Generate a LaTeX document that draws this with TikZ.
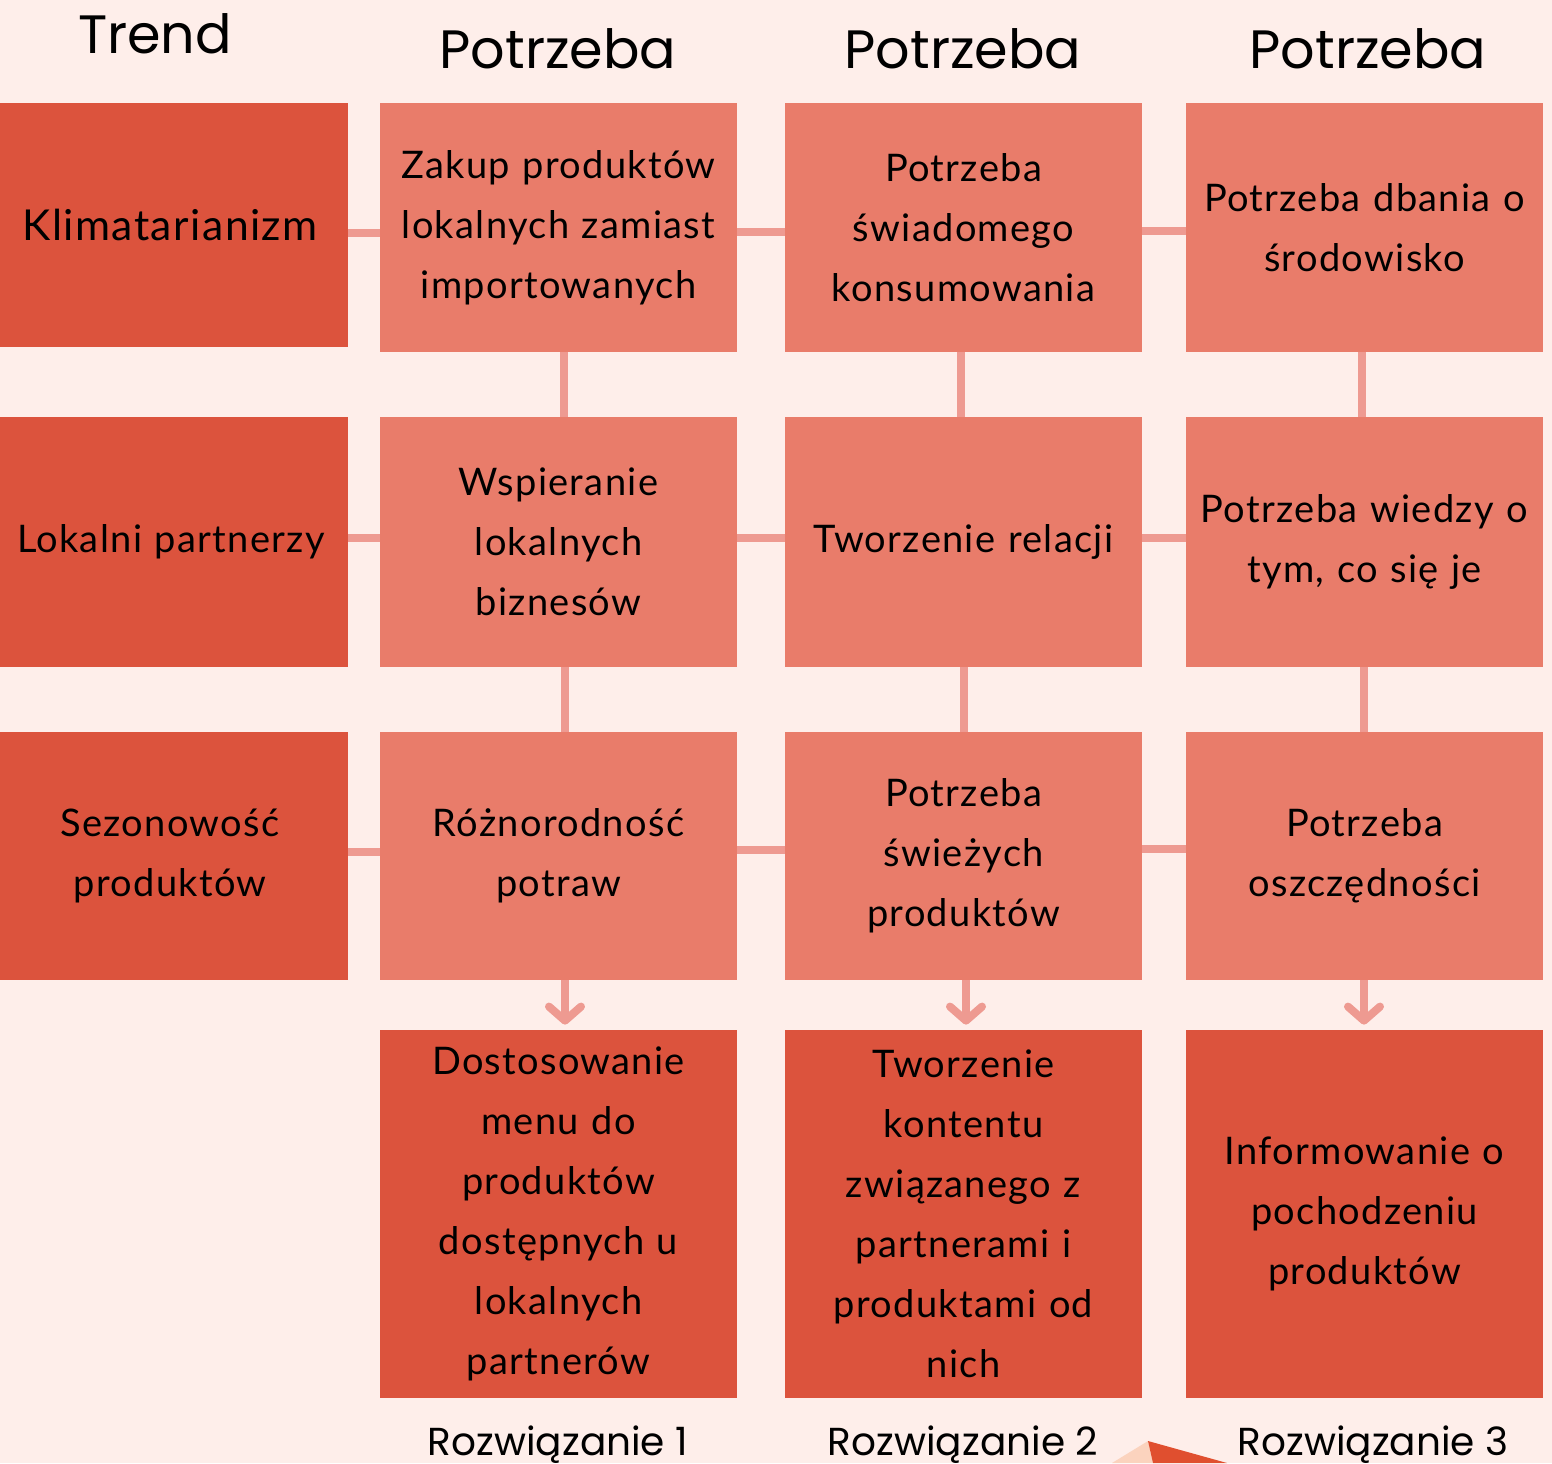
\documentclass[tikz,border=0pt]{standalone}
\usepackage{fontspec}
\setmainfont{Lato}[LetterSpace=3.5]
\newfontfamily\headfont{Poppins}
\usetikzlibrary{arrows.meta}
\definecolor{bg}{HTML}{FEEEEA}
\definecolor{darkred}{HTML}{DC533D}
\definecolor{lightred}{HTML}{E97C6A}
\definecolor{linkpink}{HTML}{EE9A91}
\definecolor{peach}{HTML}{FBD3BE}
\definecolor{flame}{HTML}{E04F2F}
\tikzset{
  box/.style={inner sep=0pt, align=center, text=black,
    font=\fontsize{19}{30}\selectfont},
  trendbox/.style={box, fill=darkred, minimum width=174pt, text width=172pt},
  needbox/.style={box, fill=lightred, minimum width=178.5pt, text width=176pt},
  solbox/.style={box, fill=darkred, minimum width=178.5pt, text width=150pt},
  heading/.style={anchor=base, inner sep=0pt, font=\headfont\fontsize{27}{32}\selectfont},
  caption/.style={anchor=base, inner sep=0pt, font=\headfont\fontsize{19.5}{24}\selectfont},
  conn/.style={draw=linkpink, line width=4pt},
  arr/.style={conn, -{Straight Barb[round, length=7pt, width=16pt]}, shorten >=2.5pt},
}
\begin{document}
\begin{tikzpicture}[x=0.5pt, y=-0.5pt]
  \fill[bg] (0,0) rectangle (1552,1463);
  \useasboundingbox (0,0) rectangle (1552,1463);

  % column headings
  \node[heading] (hT) at (155,53) {Trend};
  \node[heading] (h1) at (558,68) {Potrzeba};
  \node[heading] (h2) at (963,68) {Potrzeba};
  \node[heading] (h3) at (1368,68) {Potrzeba};

  % trends
  \node[trendbox, minimum height=122pt] (t1) at (174,225)
    {\fontsize{21.3}{30}\selectfont\hspace*{-4pt}Klimatarianizm\\[16pt]};
  \node[trendbox, minimum height=125pt] (t2) at (174,542) {\hspace*{-3pt}Lokalni partnerzy};
  \node[trendbox, minimum height=124pt] (t3) at (174,856) {\hspace*{-4pt}Sezonowość\\\hspace*{-4pt}produktów};

  % needs, row 1
  \node[needbox, minimum height=124.5pt] (n11) at (558.5,227.5)
    {Zakup produktów\\lokalnych zamiast\\importowanych};
  \node[needbox, minimum height=124.5pt] (n12) at (963.5,227.5)
    {Potrzeba\\świadomego\\konsumowania};
  \node[needbox, minimum height=124.5pt] (n13) at (1364.5,227.5)
    {Potrzeba dbania o\\środowisko\\[4pt]};

  % needs, row 2
  \node[needbox, minimum height=125pt] (n21) at (558.5,542)
    {Wspieranie\\lokalnych\\biznesów};
  \node[needbox, minimum height=125pt] (n22) at (963.5,542)
    {Tworzenie relacji};
  \node[needbox, minimum height=125pt] (n23) at (1364.5,542)
    {Potrzeba wiedzy o\\tym, co się je};

  % needs, row 3
  \node[needbox, minimum height=124pt] (n31) at (558.5,856)
    {Różnorodność\\potraw};
  \node[needbox, minimum height=124pt] (n32) at (963.5,856)
    {Potrzeba\\świeżych\\produktów};
  \node[needbox, minimum height=124pt] (n33) at (1364.5,856)
    {Potrzeba\\oszczędności};

  % solutions
  \node[solbox, minimum height=184pt] (s1) at (558.5,1214)
    {Dostosowanie\\menu do\\produktów\\dostępnych u\\lokalnych\\partnerów};
  \node[solbox, minimum height=184pt] (s2) at (963.5,1214)
    {Tworzenie\\kontentu\\związanego z\\partnerami i\\produktami od\\nich};
  \node[solbox, minimum height=184pt] (s3) at (1364.5,1214)
    {Informowanie o\\pochodzeniu\\produktów};

  % solution captions
  \node[caption] (c1) at (558,1455) {Rozwiązanie 1};
  \node[caption] (c2) at (963,1455) {Rozwiązanie 2};
  \node[caption] (c3) at (1373,1455) {Rozwiązanie 3};

  % horizontal links
  \draw[conn] ([yshift=-4pt]t1.east) -- ([yshift=-2.75pt]n11.west);
  \draw[conn] ([yshift=-2.25pt]n11.east) -- ([yshift=-2.25pt]n12.west);
  \draw[conn] ([yshift=-1.75pt]n12.east) -- ([yshift=-1.75pt]n13.west);
  \draw[conn] ([yshift=2pt]t2.east) -- ([yshift=2pt]n21.west);
  \draw[conn] ([yshift=2pt]n21.east) -- ([yshift=2pt]n22.west);
  \draw[conn] ([yshift=2pt]n22.east) -- ([yshift=2pt]n23.west);
  \draw[conn] ([yshift=2pt]t3.east) -- ([yshift=2pt]n31.west);
  \draw[conn] ([yshift=3pt]n31.east) -- ([yshift=3pt]n32.west);
  \draw[conn] ([yshift=3.5pt]n32.east) -- ([yshift=3.5pt]n33.west);

  % vertical links
  \draw[conn] ([xshift=2.75pt]n11.south) -- ([xshift=2.75pt]n21.north);
  \draw[conn] ([xshift=-1.25pt]n12.south) -- ([xshift=-1.25pt]n22.north);
  \draw[conn] ([xshift=-1.25pt]n13.south) -- ([xshift=-1.25pt]n23.north);
  \draw[conn] ([xshift=3.25pt]n21.south) -- ([xshift=3.25pt]n31.north);
  \draw[conn] ([xshift=0.25pt]n22.south) -- ([xshift=0.25pt]n32.north);
  \draw[conn] ([xshift=-0.25pt]n23.south) -- ([xshift=-0.25pt]n33.north);

  % arrows to solutions
  \draw[arr] ([xshift=3.25pt]n31.south) -- ([xshift=3.25pt]s1.north);
  \draw[arr] ([xshift=1.25pt]n32.south) -- ([xshift=1.25pt]s2.north);
  \draw[arr] ([xshift=-0.25pt]n33.south) -- ([xshift=-0.25pt]s3.north);

  % corner of a decorative shape at the lower edge
  \fill[peach] (1148,1441) -- (1112,1463) -- (1153,1463) -- cycle;
  \fill[flame] (1148,1441) -- (1153,1463) -- (1227,1463) -- cycle;
\end{tikzpicture}
\end{document}
